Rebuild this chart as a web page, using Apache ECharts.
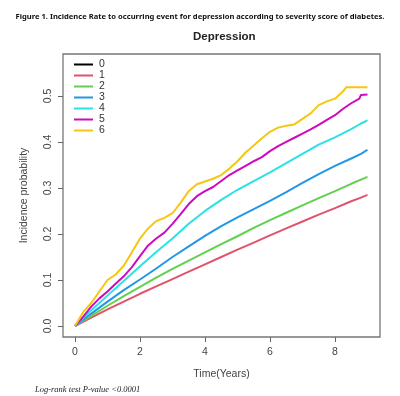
<!DOCTYPE html>
<html>
<head>
<meta charset="utf-8">
<script src="https://cdn.jsdelivr.net/npm/echarts@6/dist/echarts.min.js"></script>
<style>
  html, body { margin: 0; padding: 0; background: #fff; }
  #chart { width: 400px; height: 396px; }
</style>
</head>
<body>
<div id="chart"></div>
<script>
// severity score groups (legend)
const groups = ['0', '1', '2', '3', '4', '5', '6'];
const colors = ['#000000', '#DF536B', '#61D04F', '#2297E6', '#28E2E5', '#CD0BBC', '#F5C710'];

// tick values
const xTickValues = [0, 2, 4, 6, 8];
const yTickValues = [0, 0.1, 0.2, 0.3, 0.4, 0.5];

// time grid (years) for the smoother curves
const timeCoarse = [0, 0.5, 1, 1.5, 2, 2.5, 3, 3.5, 4, 4.5, 5, 5.5, 6, 6.5, 7, 7.5, 8, 8.5, 8.8, 9];
const sev0 = [];
const sev1 = [0, 0.018, 0.036, 0.053, 0.070, 0.086, 0.102, 0.118, 0.134, 0.150, 0.166, 0.181, 0.197, 0.212, 0.227, 0.242, 0.256, 0.271, 0.279, 0.285];
const sev2 = [0, 0.022, 0.044, 0.065, 0.085, 0.105, 0.124, 0.142, 0.160, 0.178, 0.195, 0.213, 0.230, 0.246, 0.262, 0.278, 0.293, 0.309, 0.318, 0.324];
const sev3 = [0, 0.027, 0.053, 0.078, 0.101, 0.125, 0.150, 0.173, 0.196, 0.217, 0.236, 0.254, 0.272, 0.291, 0.311, 0.330, 0.348, 0.364, 0.374, 0.383];
const sev4 = [0, 0.034, 0.066, 0.098, 0.130, 0.161, 0.190, 0.222, 0.250, 0.274, 0.296, 0.315, 0.334, 0.354, 0.374, 0.394, 0.410, 0.428, 0.440, 0.447];

// finer time grid for the jagged curves
const timeFine5 = [0, 0.25, 0.5, 0.75, 1, 1.25, 1.5, 1.75, 2, 2.25, 2.5, 2.75, 3, 3.25, 3.5, 3.75, 4, 4.25, 4.5, 4.75, 5, 5.25, 5.5, 5.75, 6, 6.25, 6.5, 6.75, 7, 7.25, 7.5, 7.75, 8, 8.25, 8.5, 8.75, 8.8, 9];
const sev5 = [0, 0.020, 0.042, 0.060, 0.075, 0.092, 0.108, 0.128, 0.152, 0.175, 0.190, 0.203, 0.222, 0.243, 0.265, 0.282, 0.293, 0.302, 0.315, 0.328, 0.338, 0.348, 0.358, 0.367, 0.380, 0.391, 0.400, 0.409, 0.418, 0.427, 0.437, 0.448, 0.458, 0.472, 0.484, 0.494, 0.502, 0.503];
const timeFine6 = [0, 0.25, 0.5, 0.75, 1, 1.25, 1.5, 1.75, 2, 2.25, 2.5, 2.75, 3, 3.25, 3.5, 3.75, 4, 4.25, 4.5, 4.75, 5, 5.25, 5.5, 5.75, 6, 6.25, 6.5, 6.75, 7, 7.25, 7.5, 7.75, 8, 8.25, 8.35, 9];
const sev6 = [0, 0.030, 0.050, 0.075, 0.100, 0.112, 0.131, 0.160, 0.190, 0.212, 0.228, 0.235, 0.245, 0.268, 0.293, 0.308, 0.314, 0.320, 0.328, 0.342, 0.358, 0.377, 0.392, 0.408, 0.422, 0.431, 0.435, 0.438, 0.450, 0.462, 0.480, 0.488, 0.494, 0.510, 0.519, 0.519];

const curves = [
  [timeCoarse, sev0], [timeCoarse, sev1], [timeCoarse, sev2], [timeCoarse, sev3],
  [timeCoarse, sev4], [timeFine5, sev5], [timeFine6, sev6]
];

const chart = echarts.init(document.getElementById('chart'), null, { renderer: 'canvas' });

const axisText = { color: '#444', fontSize: 10.5, fontFamily: 'Liberation Sans' };
const nameText = { color: '#444', fontSize: 10.5, fontFamily: 'Liberation Sans' };

const option = {
  animation: false,
  color: colors,
  title: [
    {
      text: 'Figure 1. Incidence Rate to occurring event for depression according to severity score of diabetes.',
      left: 'center', top: 8,
      textStyle: { fontSize: 7.6, fontWeight: 'bold', color: '#111', fontFamily: 'Noto Sans' }
    },
    {
      text: 'Depression',
      left: 188, top: 26,
      textStyle: { fontSize: 11.5, fontWeight: 'bold', color: '#222', fontFamily: 'Liberation Sans' }
    },
    {
      text: 'Log-rank test P-value <0.0001',
      left: 30, top: 380,
      textStyle: { fontSize: 8.5, fontStyle: 'italic', fontWeight: 'normal', color: '#222', fontFamily: 'Liberation Serif' }
    }
  ],
  legend: {
    data: groups,
    orient: 'vertical',
    left: 69, top: 54,
    icon: 'rect',
    itemWidth: 19, itemHeight: 2,
    itemGap: 0,
    textStyle: { color: '#333', fontSize: 10.5, lineHeight: 10.8, fontFamily: 'Liberation Sans', padding: [0, 0, 0, 1] }
  },
  grid: {
    left: 63, right: 20, top: 54, bottom: 59,
    show: true, borderColor: '#777', borderWidth: 1.3, backgroundColor: 'transparent'
  },
  xAxis: {
    type: 'value', min: -0.369, max: 9.385,
    axisLine: { show: false, onZero: false },
    axisTick: { show: true, inside: false, length: 5, customValues: xTickValues, lineStyle: { color: '#666' } },
    axisLabel: Object.assign({ margin: 10, customValues: xTickValues }, axisText),
    splitLine: { show: false },
    name: 'Time(Years)', nameLocation: 'middle', nameGap: 32, nameTextStyle: nameText
  },
  yAxis: {
    type: 'value', min: -0.0239, max: 0.591,
    axisLine: { show: false, onZero: false },
    axisTick: { show: true, inside: false, length: 5, customValues: yTickValues, lineStyle: { color: '#666' } },
    axisLabel: Object.assign({ margin: 9, rotate: 90, customValues: yTickValues, formatter: v => v.toFixed(1) }, axisText),
    splitLine: { show: false },
    name: 'Incidence probability', nameLocation: 'middle', nameRotate: 90, nameGap: 33, nameTextStyle: nameText
  },
  series: groups.map((g, i) => ({
    name: g,
    type: 'line',
    symbol: 'none',
    lineStyle: { width: 2, color: colors[i] },
    itemStyle: { color: colors[i] },
    data: curves[i][1].map((v, k) => [curves[i][0][k], v])
  }))
};

chart.setOption(option);
</script>
</body>
</html>
